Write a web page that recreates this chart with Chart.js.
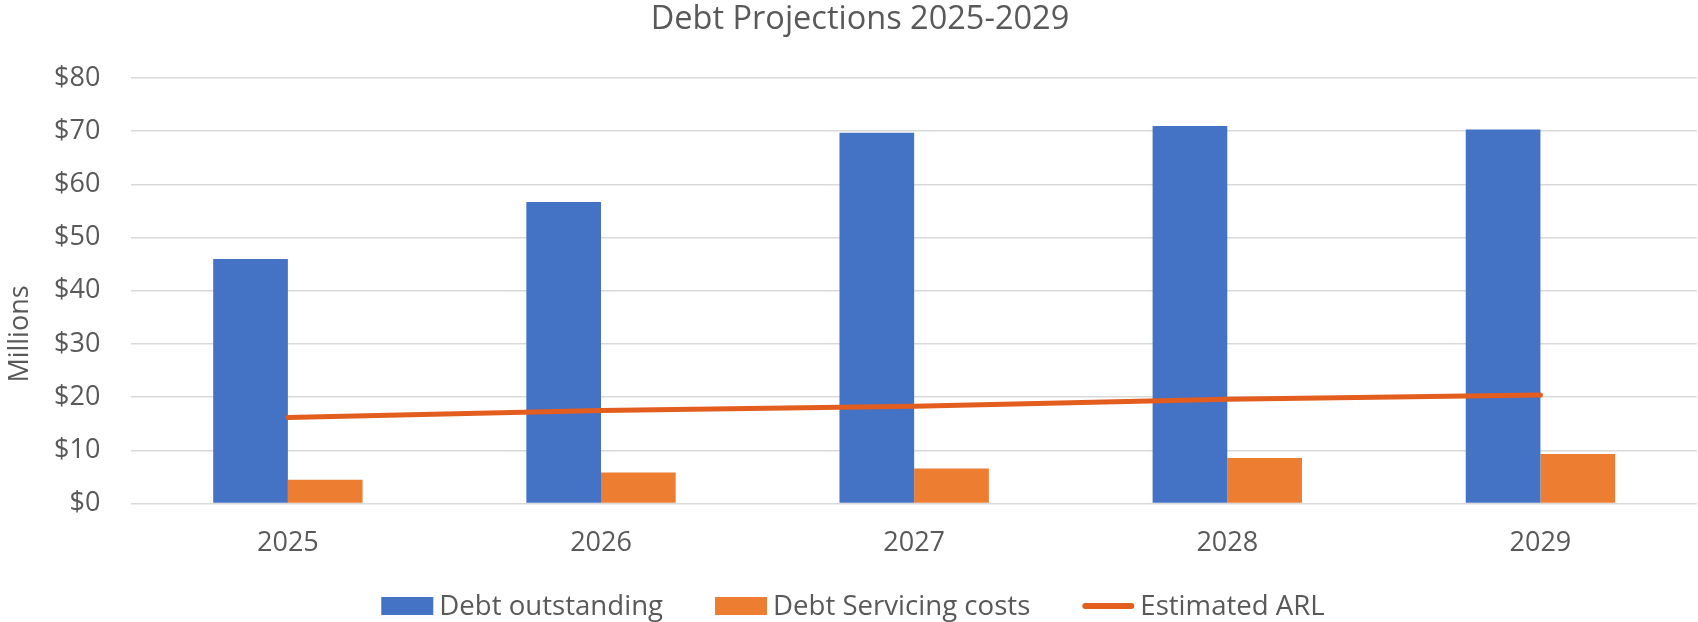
<!DOCTYPE html>
<html>
<head>
<meta charset="utf-8">
<script src="https://cdn.jsdelivr.net/npm/chart.js@4"></script>
<style>
  html, body { margin: 0; padding: 0; background: #fff; }
  #wrap { width: 1698px; height: 622px; }
</style>
</head>
<body>
<div id="wrap"><canvas id="debtChart"></canvas></div>
<script>
const years = ["2025", "2026", "2027", "2028", "2029"];
const debtOutstanding = [46.0, 56.7, 69.7, 71.0, 70.3];
const servicingCosts = [4.5, 5.85, 6.6, 8.55, 9.3];
const estimatedARL = [16.2, 17.5, 18.3, 19.6, 20.4];
const yTicks = [0, 10, 20, 30, 40, 50, 60, 70, 80];

const textColor = "#595959";
Chart.defaults.font.family = "'Open Sans', sans-serif";
Chart.defaults.color = textColor;

// legend and axis title drawn by hand so they sit where Excel put them
const excelBits = {
  id: "excelBits",
  afterDraw(chart) {
    const c = chart.ctx;
    c.save();
    c.font = "27px 'Open Sans', sans-serif";
    c.fillStyle = textColor;
    c.textBaseline = "middle";

    // y axis title
    c.save();
    c.translate(20, 334);
    c.rotate(-Math.PI / 2);
    c.textAlign = "center";
    c.fillText("Millions", 0, 0);
    c.restore();

    // legend in the order Excel shows it
    c.font = "27.6px 'Open Sans', sans-serif";
    const items = chart.data.datasets.slice().sort((a, b) => a.legendIndex - b.legendIndex);
    const boxW = 52, gap = 6, spacing = 52, rowY = 606;
    let total = 0;
    items.forEach((d, i) => {
      total += boxW + gap + c.measureText(d.label).width;
      if (i < items.length - 1) total += spacing;
    });
    let x = chart.width / 2 - total / 2 + 4;
    c.textAlign = "left";
    items.forEach(d => {
      if (d.type === "line") {
        c.strokeStyle = d.borderColor;
        c.lineWidth = 6;
        c.lineCap = "round";
        c.beginPath();
        c.moveTo(x + 3, rowY);
        c.lineTo(x + boxW - 3, rowY);
        c.stroke();
      } else {
        c.fillStyle = d.backgroundColor;
        c.fillRect(x, rowY - 9, boxW, 18);
      }
      x += boxW + gap;
      c.fillStyle = textColor;
      c.fillText(d.label, x, rowY + 1);
      x += c.measureText(d.label).width + spacing;
    });
    c.restore();
  }
};

const ctx = document.getElementById("debtChart").getContext("2d");
const debtChart = new Chart(ctx, {
  type: "bar",
  data: {
    labels: years,
    datasets: [
      {
        label: "Debt outstanding",
        data: debtOutstanding,
        backgroundColor: "#4472C4",
        order: 1,
        legendIndex: 0
      },
      {
        label: "Debt Servicing costs",
        data: servicingCosts,
        backgroundColor: "#ED7D31",
        order: 1,
        legendIndex: 1
      },
      {
        type: "line",
        label: "Estimated ARL",
        data: estimatedARL,
        borderColor: "#E35D1F",
        backgroundColor: "#E35D1F",
        borderWidth: 5,
        borderCapStyle: "round",
        pointRadius: 0,
        tension: 0,
        order: 0,
        legendIndex: 2
      }
    ]
  },
  options: {
    responsive: true,
    maintainAspectRatio: false,
    animation: false,
    layout: { padding: { left: 23, right: 1, top: 0, bottom: 46 } },
    datasets: {
      bar: { barPercentage: 1, categoryPercentage: 0.477 }
    },
    plugins: {
      legend: { display: false },
      tooltip: { enabled: false },
      title: {
        display: true,
        text: "Debt Projections 2025-2029",
        color: textColor,
        font: { size: 32.5, weight: "normal" },
        padding: { top: 0, bottom: 39 }
      }
    },
    scales: {
      x: {
        grid: { display: false },
        border: { display: false },
        ticks: { font: { size: 27 }, color: textColor, padding: 16 }
      },
      y: {
        min: 0,
        max: 80,
        afterBuildTicks: axis => { axis.ticks = yTicks.map(v => ({ value: v })); },
        grid: { color: "#D9D9D9", lineWidth: 1.5, drawTicks: false },
        border: { display: false },
        ticks: {
          font: { size: 27 },
          color: textColor,
          padding: 31,
          callback: v => "$" + v
        }
      }
    }
  },
  plugins: [excelBits]
});
</script>
</body>
</html>
